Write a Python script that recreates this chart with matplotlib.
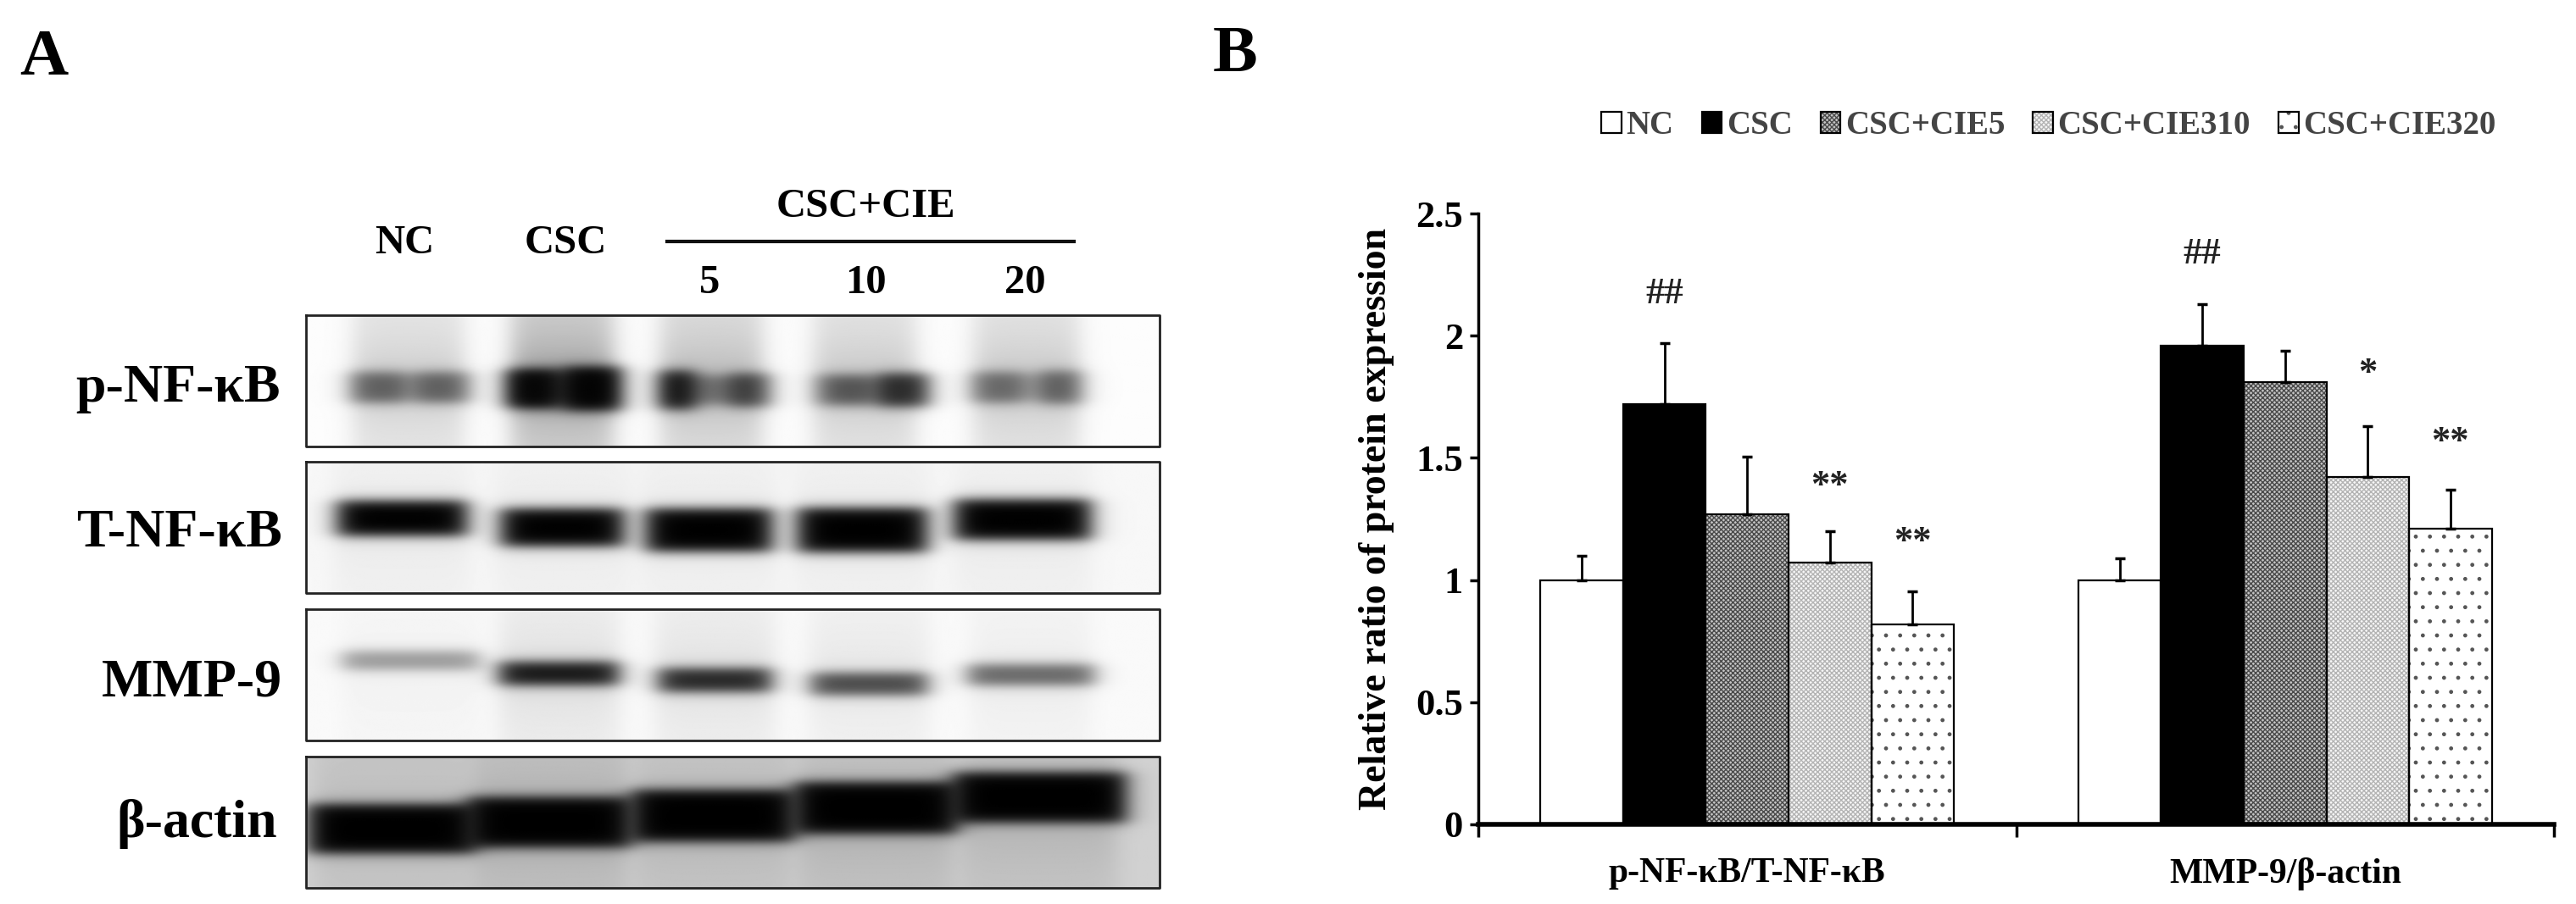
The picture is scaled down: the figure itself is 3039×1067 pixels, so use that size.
import numpy as np
import matplotlib
matplotlib.use('Agg')
import matplotlib.pyplot as plt
from matplotlib.legend_handler import HandlerTuple

plt.rcParams['font.family'] = ['Liberation Serif', 'DejaVu Serif']
plt.rcParams['font.weight'] = 'bold'
plt.rcParams['hatch.linewidth'] = 1.0

W, H = 3039, 1067

# ========= chart data (panel B)
groups = ['p-NF-κB/T-NF-κB', 'MMP-9/β-actin']
series = ['NC', 'CSC', 'CSC+CIE5', 'CSC+CIE310', 'CSC+CIE320']
nc = [1.0, 1.0]
csc = [1.72, 1.96]
cie5 = [1.27, 1.81]
cie10 = [1.07, 1.42]
cie20 = [0.82, 1.21]
err_nc = [0.10, 0.09]
err_csc = [0.25, 0.17]
err_cie5 = [0.235, 0.13]
err_cie10 = [0.13, 0.21]
err_cie20 = [0.135, 0.16]
y_ticks = [0, 0.5, 1, 1.5, 2, 2.5]
y_tick_labels = ['0', '0.5', '1', '1.5', '2', '2.5']
# group, bar, height, mark
marks = [(0, 1, 2.17, '##'), (1, 1, 2.335, '##'),
         (0, 3, 1.385, '**'), (0, 4, 1.155, '**'),
         (1, 3, 1.845, '*'), (1, 4, 1.565, '**')]

# ========= blot bands (panel A): x centre, half width, y centre, half height, darkness
band_p = [(.083, .032, .55, .12, .42), (.160, .032, .55, .12, .42), (.120, .060, .55, .10, .25),
          (.265, .030, .56, .15, .95), (.335, .034, .56, .17, .97), (.300, .055, .56, .13, .60),
          (.435, .020, .57, .15, .90), (.520, .024, .57, .13, .55), (.475, .055, .57, .11, .40),
          (.630, .032, .57, .12, .40), (.700, .030, .57, .13, .72), (.665, .055, .57, .10, .35),
          (.810, .030, .55, .12, .38), (.885, .024, .55, .13, .45), (.845, .055, .55, .10, .22)]
smear_p = [(.120, .065, .17), (.300, .060, .34), (.475, .060, .24), (.655, .060, .19), (.845, .062, .19)]
band_t = [(.112, .076, .43, .135, 1.0), (.300, .072, .50, .145, 1.0), (.472, .074, .52, .165, 1.0),
          (.652, .076, .52, .170, 1.0), (.840, .080, .44, .155, 1.0)]
smear_t = [(.112, .08, .05), (.300, .08, .05), (.472, .08, .05), (.652, .08, .05), (.840, .08, .05)]
band_m = [(.122, .080, .39, .070, .38), (.296, .070, .49, .090, .92), (.479, .066, .54, .090, .85),
          (.660, .068, .57, .085, .70), (.850, .074, .50, .080, .58)]
smear_m = [(.122, .08, .03), (.296, .07, .10), (.479, .07, .09), (.660, .07, .07), (.850, .07, .05)]
band_a = [(.100, .098, .55, .190, 1.0), (.285, .096, .50, .195, 1.0), (.477, .096, .45, .200, 1.0),
          (.668, .096, .39, .200, 1.0), (.860, .102, .31, .195, 1.0)]
smear_a = [(.100, .09, .10), (.285, .09, .16), (.477, .09, .12), (.668, .09, .14), (.860, .09, .12)]


def px(x0, y0, x1, y1):
    # figure fractions from pixel box, y from the top
    return [x0 / W, 1 - y1 / H, (x1 - x0) / W, (y1 - y0) / H]


def soft_box(t, c, half, edge):
    return 0.5 * (np.tanh((t - c + half) / edge) - np.tanh((t - c - half) / edge))


def blot(bands, smears, back):
    x = np.linspace(0, 1, 500)
    y = np.linspace(0, 1, 150)
    xx, yy = np.meshgrid(x, y)
    img = np.full(xx.shape, 1.0 - back)
    fade = 0.55 + 0.45 * np.exp(-((yy - 0.5) / 0.35) ** 2)
    for c, half, dark in smears:
        img = img * (1 - dark * fade * soft_box(xx, c, half, .016))
    for xc, hw, yc, hh, dark in bands:
        img = img * (1 - dark * soft_box(xx, xc, hw, .016) * soft_box(yy, yc, hh, .05))
    return img


fig = plt.figure(figsize=(W / 100, H / 100), dpi=100, facecolor='white')

# ========= pannello A
ax0 = fig.add_axes([0, 0, 1, 1])
ax0.set_xlim(0, W)
ax0.set_ylim(H, 0)
ax0.axis('off')

panels = [(372, 527, band_p, smear_p, .01), (545, 700, band_t, smear_t, .03),
          (719, 874, band_m, smear_m, .02), (893, 1048, band_a, smear_a, .18)]
for top, bottom, bands, smears, back in panels:
    ax0.imshow(blot(bands, smears, back), cmap='gray', vmin=0, vmax=1,
               extent=(361, 1368, bottom, top), aspect='auto', interpolation='bilinear')
    ax0.plot([361, 1368, 1368, 361, 361], [top, top, bottom, bottom, top], color='#222222', lw=2)
ax0.set_xlim(0, W)
ax0.set_ylim(H, 0)

ax0.text(52, 70, 'A', fontsize=57, ha='center', va='center')
ax0.text(1457, 66, 'B', fontsize=57, ha='center', va='center')

for label, x, y in [('NC', 477, 287), ('CSC', 667, 287), ('CSC+CIE', 1021, 244),
                    ('5', 837, 334), ('10', 1021, 334), ('20', 1209, 334)]:
    ax0.text(x, y, label, fontsize=35, ha='center', va='center')
ax0.plot([787, 1267], [285, 285], color='#111111', lw=3)

for label, right, y in [('p-NF-κB', 331, 459), ('T-NF-κB', 333, 630),
                        ('MMP-9', 333, 806), ('β-actin', 327, 973)]:
    ax0.text(right, y, label, fontsize=46, ha='right', va='center')

# ========= pannello B
ax = fig.add_axes(px(1744, 252, 3013, 973))
ax.patch.set_alpha(0)
width = 0.1537
values = [nc, csc, cie5, cie10, cie20]
errors = [err_nc, err_csc, err_cie5, err_cie10, err_cie20]
faces = ['white', 'black', '#c4c4c4', '#f6f6f6', 'white']
hatches = [None, None, 'xxxxxx', 'xxxxxx', '.']
hatch_colors = ['white', 'black', '#4a4a4a', '#b4b4b4', '#555555']
centers = np.array([0.5, 1.5])
handles = []
for i, name in enumerate(series):
    pos = centers + (i - 2) * width
    # hatch colour follows the edge colour, so the black outline is a second bar on top
    filled = ax.bar(pos, values[i], width, facecolor=faces[i], edgecolor=hatch_colors[i],
                    linewidth=0, hatch=hatches[i], zorder=2)
    outline = ax.bar(pos, values[i], width, facecolor='none', edgecolor='black',
                     linewidth=1.6, zorder=2.5)
    handles.append((filled[0], outline[0]))
    ax.errorbar(pos, values[i], yerr=[[0, 0], errors[i]], fmt='none', ecolor='black',
                elinewidth=2, capsize=4, capthick=2.5, zorder=3)

for g, bar, y, mark in marks:
    ax.text(centers[g] + (bar - 2) * width, y, mark, fontsize=32,
            color='#222222', ha='center', va='center')

ax.set_xlim(0, 2)
ax.set_ylim(0, 2.5)
ax.set_yticks(y_ticks)
ax.set_yticklabels(y_tick_labels, fontsize=32)
ax.set_xticks([0, 1, 2])
ax.set_xticklabels([])
ax.set_xticks(centers, minor=True)
ax.set_xticklabels(groups, minor=True, fontsize=30)
ax.tick_params(axis='x', which='minor', length=0, pad=28)
ax.tick_params(axis='x', which='major', length=11, width=2.5)
ax.tick_params(axis='y', length=7, width=2.5, pad=6)
for side in ['top', 'right']:
    ax.spines[side].set_visible(False)
ax.spines['left'].set_linewidth(2.5)
ax.spines['bottom'].set_linewidth(4)
ax.set_ylabel('Relative ratio of protein expression', fontsize=33, fontweight='bold', labelpad=18)

leg = fig.legend(handles, series, ncol=5, frameon=False, fontsize=28,
                 loc='center', bbox_to_anchor=(2417 / W, 1 - 149 / H),
                 handlelength=0.6, handleheight=0.6, handletextpad=0.15, columnspacing=0.85,
                 labelcolor='#444444', handler_map={tuple: HandlerTuple(ndivide=1, pad=0)})

fig.savefig('out.png', dpi=100)
